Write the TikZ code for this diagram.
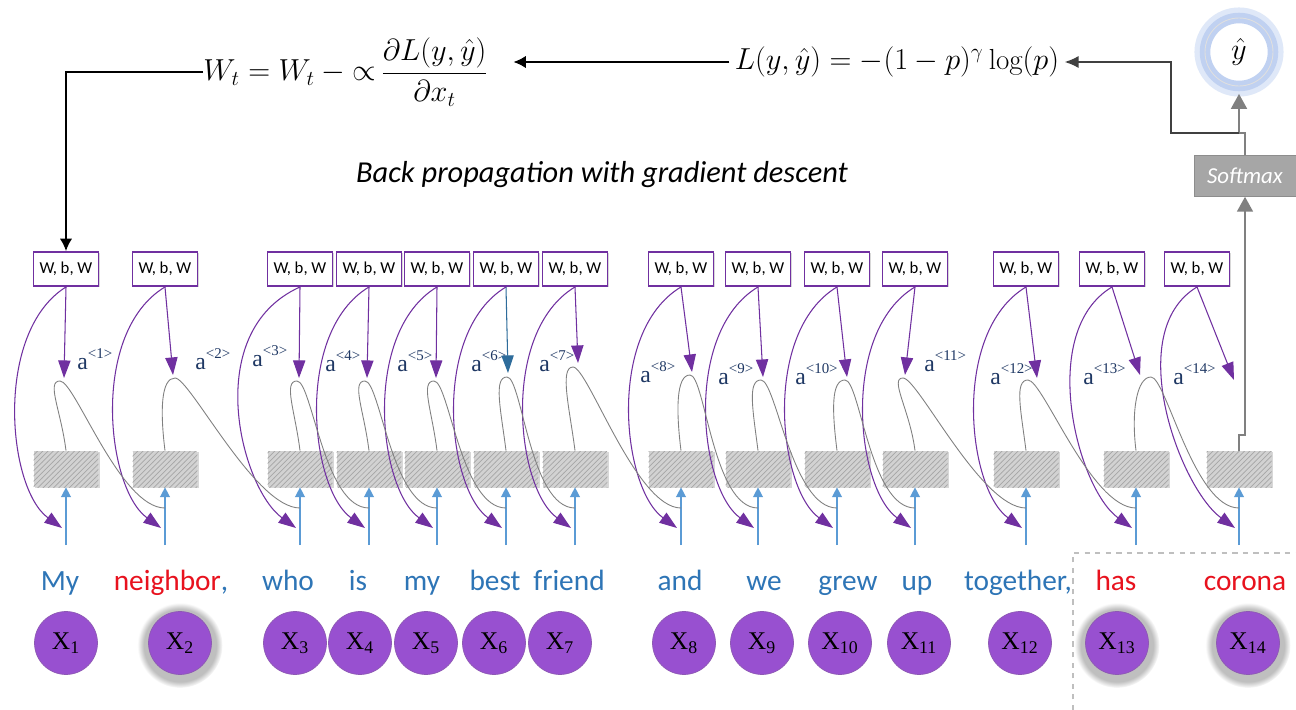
\documentclass[tikz,border=0pt]{standalone}
\usepackage{fontspec}
\usepackage{xcolor}
\usepackage{tikz}
\usetikzlibrary{shapes,arrows.meta,positioning,calc,patterns,shadows}
\newfontfamily\carlito{Carlito}
\newfontfamily\timesrm{Liberation Serif}
\definecolor{boxpurple}{RGB}{112,48,160}
\definecolor{nodepurple}{RGB}{152,80,208}
\definecolor{inputblue}{RGB}{91,155,213}
\definecolor{wordblue}{RGB}{46,117,182}
\definecolor{wordred}{RGB}{232,18,30}
\definecolor{labelnavy}{RGB}{31,56,100}
\definecolor{loopgray}{RGB}{128,128,128}
\definecolor{softgray}{RGB}{166,166,166}
\definecolor{steelblue}{RGB}{46,108,155}
\definecolor{glowblue}{RGB}{150,178,232}
\newcommand{\actlabel}[1]{a\raisebox{1.0ex}{\fontsize{8.5}{9}\selectfont <#1>}}

\begin{document}
\begin{tikzpicture}[x=0.02cm, y=-0.02cm,
    wbw/.style={rectangle, draw=boxpurple, line width=1.1pt, fill=white, minimum width=1.3cm, minimum height=0.68cm, inner sep=0pt, font=\carlito\fontsize{9.5}{10}\selectfont, drop shadow={shadow xshift=0.6pt, shadow yshift=-0.8pt, opacity=.3}},
    cell/.style={rectangle, fill=gray!35, postaction={pattern=north east lines, pattern color=gray!70}, minimum width=1.3cm, minimum height=0.72cm, inner sep=0pt, drop shadow={shadow xshift=0.6pt, shadow yshift=-0.8pt, opacity=.3}},
    xnode/.style={circle, fill=nodepurple, draw=boxpurple!80, line width=0.4pt, minimum size=1.26cm, inner sep=0pt, font=\timesrm\fontsize{14.5}{15}\selectfont},
    glow/.style={circular drop shadow={shadow xshift=0pt, shadow yshift=-1pt, shadow scale=1.35, opacity=.5}},
    word/.style={anchor=base, inner sep=0pt, text=wordblue, font=\carlito\fontsize{16.7}{18}\selectfont},
    alab/.style={anchor=base west, inner sep=0pt, text=labelnavy, font=\timesrm\fontsize{13.5}{14}\selectfont},
    formula/.style={inner sep=0pt, font=\fontsize{16.5}{20}\selectfont},
    note/.style={inner sep=0pt, font=\carlito\itshape\fontsize{17.3}{20}\selectfont},
    softbox/.style={rectangle, fill=softgray, draw=softgray!85!black, line width=0.3pt, minimum width=2.04cm, minimum height=0.82cm, text=white, font=\carlito\itshape\fontsize{13}{15}\selectfont},
    yhatnode/.style={circle, minimum size=1.36cm, fill=white, preaction={draw=glowblue!30, line width=12pt}, draw=glowblue!60, line width=6pt, postaction={draw=white!75!gray, line width=0.5pt}, font=\fontsize{17}{20}\selectfont},
    wline/.style={line width=0.6pt, -{Triangle[length=10pt,width=7pt]}},
    loopline/.style={loopgray, line width=0.5pt},
    inarrow/.style={inputblue, line width=0.8pt, -{Triangle[length=5.5pt,width=5.5pt]}},
    outarrow/.style={loopgray, line width=1.3pt, -{Triangle[length=8.5pt,width=9pt]}},
    lossline/.style={black!75, line width=0.9pt, -{Latex[length=8pt,width=7pt]}, shorten >=3pt},
    toparrow/.style={black, line width=0.9pt, -{Latex[length=7pt,width=7pt]}}
  ]
    \fill[white] (0,0) rectangle (1296,710);
    \useasboundingbox (0,0) rectangle (1296,710);

    \foreach \i/\bx/\cx/\tx/\ty/\px/\py/\ac/\ax/\ay/\lx in {
        1/66/66/64/378/60/381/boxpurple/77/369/-72,
        2/165/165/173/375/175/378/boxpurple/195/369/-75,
        3/300/300/299/378/297/381/boxpurple/252/366/-100,
        4/369/369/367/378/365/381/boxpurple/325/371/-75,
        5/437/437/436/378/434/381/boxpurple/397/371/-75,
        6/506/506/508/373/507/377/steelblue/471/371/-75,
        7/575/575/578/363/573/367/boxpurple/539/371/-75,
        8/681/681/692/372/690/375/boxpurple/640/382/-75,
        9/758/758/763/377/761/380/boxpurple/718/384/-75,
        10/837/837/847/377/845/380/boxpurple/795/384/-75,
        11/915/915/905/375/903/378/boxpurple/924/371/-75,
        12/1026/1026/1037/378/1028/380/boxpurple/990/384/-75,
        13/1112/1136/1140/375/1151/377/boxpurple/1083/384/-75,
        14/1197/1239/1234/380/1234/380/boxpurple/1173/384/-75}{
      \node[wbw] (w\i) at (\bx,269) {W, b, W};
      \node[cell] (c\i) at (\cx,469) {};
      \node[alab] (a\i) at (\ax,\ay) {\actlabel{\i}};
      \coordinate (t\i) at (\tx,\ty);
      \coordinate (p\i) at (\px,\py);
      \coordinate (b\i) at ({\cx-4},528);
      \coordinate (m\i) at (\cx,508);
      \coordinate (in\i) at (\cx,545);
      \global\expandafter\let\csname arrowcol\i\endcsname\ac
      \global\expandafter\let\csname leftbend\i\endcsname\lx
    }

    \foreach \i in {1,...,14}{
      \draw[inarrow] (in\i) -- (c\i.south);
      \draw[wline, \csname arrowcol\i\endcsname] (w\i.south) -- (t\i);
      \draw[wline, boxpurple] (w\i.south) .. controls +(\csname leftbend\i\endcsname,45) and +(-55,-40) .. (b\i);
    }
    \foreach \i in {1,...,13}{
      \pgfmathtruncatemacro\j{\i+1}
      \draw[loopline] (c\i.north) .. controls +(-5,-40) and +(-14,0) .. (p\i) .. controls +(15,0) and +(-45,0) .. (m\j);
    }

    \node[softbox] (soft) at (1245,176) {Softmax};
    \node[yhatnode] (yhat) at (1239,52) {$\hat{y}$};
    \draw[outarrow] (c14.north) -- ++(0,-16) -| (soft.south);
    \draw[outarrow, shorten >=1.5pt] (soft.north) -- ++(0,-22) coordinate (split) -| (yhat.south);

    \node[formula] (loss) at (897,62) {$L(y,\hat{y}) = -(1-p)^{\gamma}\log(p)$};
    \node[formula] (upd) at (346,72) {$\displaystyle W_t = W_t - \mathord{\propto}\,\frac{\partial L(y,\hat{y})}{\partial x_t}$};
    \node[note] (bp) at (602,175) {Back propagation with gradient descent};

    \draw[lossline] ([xshift=-3.4pt]split) -- ++(-68,0) |- (loss.east);
    \draw[toparrow, shorten <=3pt, shorten >=14pt] (loss.west) -- (loss.west -| upd.east);
    \draw[toparrow] (upd.west) -| (w1.north);

    \node[word] (wd1) at (60,590) {My};
    \node[word] (wd2) at (171,590) {\textcolor{wordred}{neighbor},};
    \node[word] (wd3) at (288,590) {who};
    \node[word] (wd4) at (358,590) {is};
    \node[word] (wd5) at (422,590) {my};
    \node[word] (wd6) at (495,590) {best};
    \node[word] (wd7) at (569,590) {friend};
    \node[word] (wd8) at (680,590) {and};
    \node[word] (wd9) at (764,590) {we};
    \node[word] (wd10) at (848,590) {grew};
    \node[word] (wd11) at (917,590) {up};
    \node[word] (wd12) at (1018,590) {together,};
    \node[word, text=wordred] (wd13) at (1116,590) {has};
    \node[word, text=wordred] (wd14) at (1245,590) {corona};

    \node[xnode] (x1) at (66,643) {X\textsubscript{1}};
    \node[xnode, glow] (x2) at (180,643) {X\textsubscript{2}};
    \node[xnode] (x3) at (295,643) {X\textsubscript{3}};
    \node[xnode] (x4) at (360,643) {X\textsubscript{4}};
    \node[xnode] (x5) at (426,643) {X\textsubscript{5}};
    \node[xnode] (x6) at (494,643) {X\textsubscript{6}};
    \node[xnode] (x7) at (560,643) {X\textsubscript{7}};
    \node[xnode] (x8) at (684,643) {X\textsubscript{8}};
    \node[xnode] (x9) at (762,643) {X\textsubscript{9}};
    \node[xnode] (x10) at (840,643) {X\textsubscript{10}};
    \node[xnode] (x11) at (919,643) {X\textsubscript{11}};
    \node[xnode] (x12) at (1020,643) {X\textsubscript{12}};
    \node[xnode, glow] (x13) at (1117,643) {X\textsubscript{13}};
    \node[xnode, glow] (x14) at (1248,643) {X\textsubscript{14}};

    \draw[dashed, gray!50, line width=0.6pt] (1073,710) -- (1073,553) -- (1296,553);
  \end{tikzpicture}
\end{document}
